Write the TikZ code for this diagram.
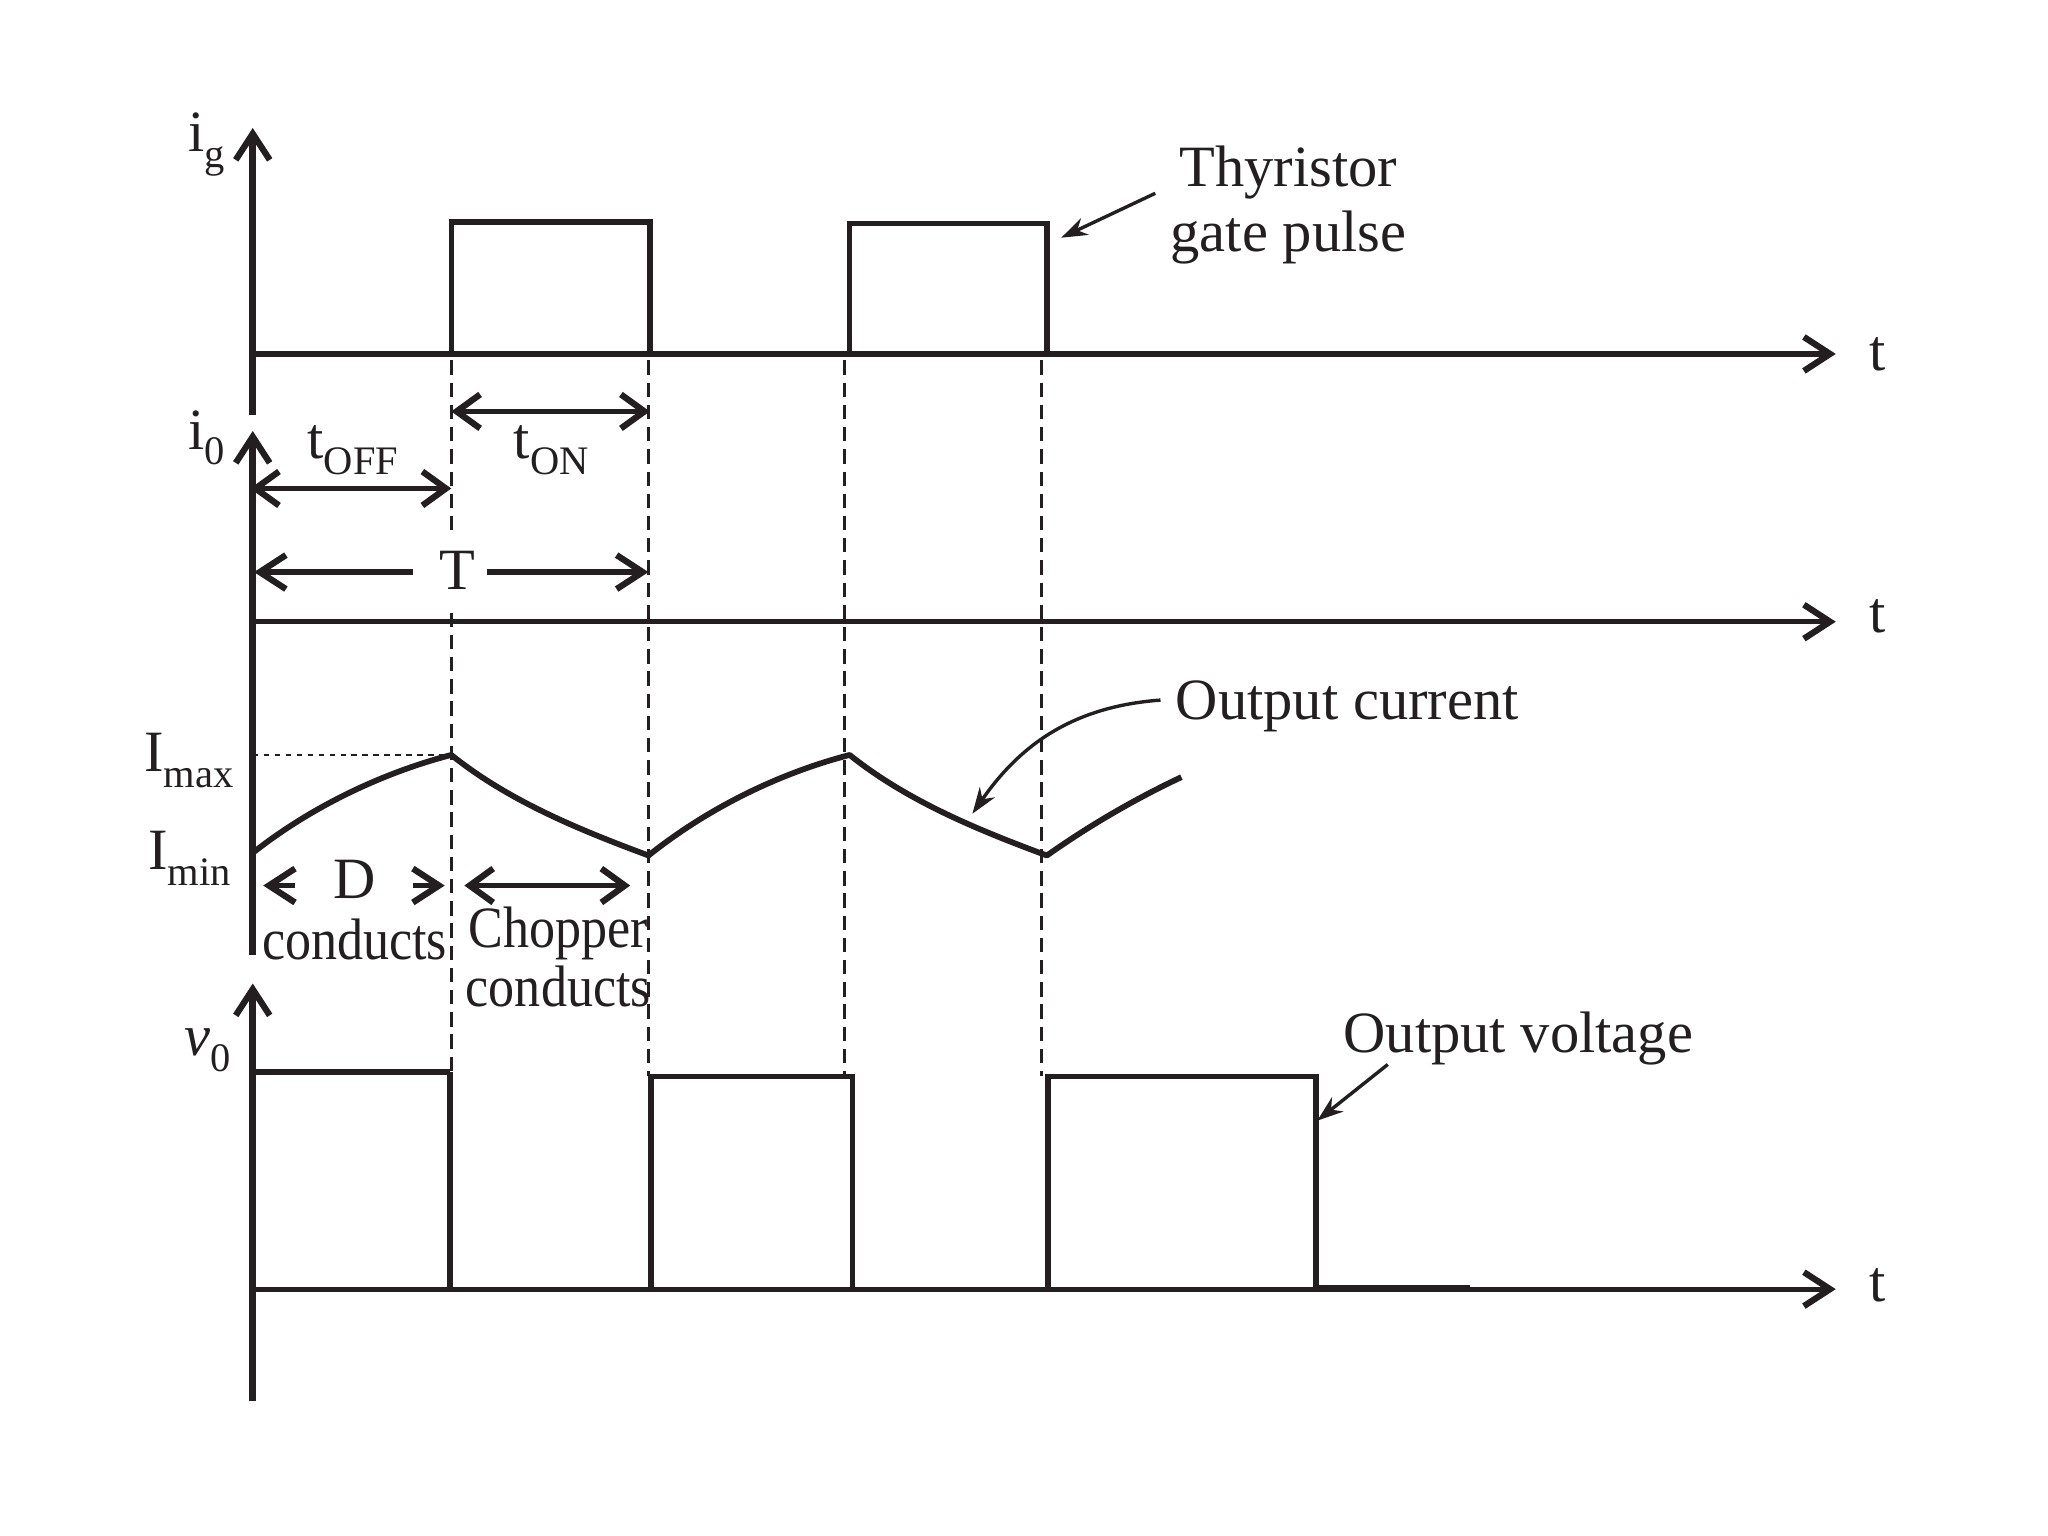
\documentclass[tikz,border=0pt]{standalone}
\usepackage{fontspec}
\setmainfont{Liberation Serif}
\usetikzlibrary{arrows.meta}
\definecolor{ink}{HTML}{231F20}
\newcommand{\sbx}[1]{\raisebox{-6pt}{\fontsize{15.5}{18}\selectfont #1}}
\newcommand{\cond}[1]{\scalebox{0.89}[1]{#1}}
\tikzset{
  x=0.5pt,y=-0.5pt,
  every node/.style={inner sep=0pt,outer sep=0pt,text=ink,font=\fontsize{22.4}{27}\selectfont,align=center},
  subl/.style={anchor=base west},
  axisline/.style={draw=ink,line width=2.5pt},
  thinaxis/.style={draw=ink,line width=2pt},
  wave/.style={draw=ink,line width=2.1pt},
  guide/.style={draw=ink,line width=1pt,dash pattern=on 5.5pt off 3pt},
  dotguide/.style={draw=ink,line width=0.9pt,dash pattern=on 2.2pt off 2pt},
  barb/.style={-{Straight Barb[length=10pt,width=13pt,line width=2.4pt]}},
  dbarb/.style={{Straight Barb[length=9pt,width=13pt,line width=2.4pt]}-{Straight Barb[length=9pt,width=13pt,line width=2.4pt]}},
  pointer/.style={draw=ink,line width=1.3pt,-{Stealth[length=10pt,width=7pt]}},
}
\begin{document}
\begin{tikzpicture}
\useasboundingbox[fill=white] (-0.5,-1) rectangle (1567.5,1175);
% coordinates
\coordinate (a1b) at (193,317); \coordinate (a1t) at (193,97);
\coordinate (b1l) at (193,270); \coordinate (b1r) at (1405,270);
\coordinate (a2b) at (193,730); \coordinate (a2t) at (193,329);
\coordinate (b2l) at (193,475); \coordinate (b2r) at (1405,475);
\coordinate (a3b) at (193,1072); \coordinate (a3t) at (193,752);
\coordinate (b3l) at (193,986); \coordinate (b3r) at (1405,986);
% dashed guides
\draw[guide] (345,275) -- (345,405);
\draw[guide] (345,468) -- (345,820);
\foreach \x/\ye in {496/823,646/823,797/823}{
  \draw[guide] (\x,275) -- (\x,\ye);
}
% axes
\draw[axisline,barb] (a1b) -- (a1t);
\draw[axisline,barb] (b1l) -- (b1r);
\draw[axisline,barb] (a2b) -- (a2t);
\draw[thinaxis,barb] (b2l) -- (b2r);
\draw[axisline,barb] (a3b) -- (a3t);
\draw[thinaxis,barb] (b3l) -- (b3r);
% gate pulses
\draw[wave,line join=miter] (345,270) -- (345,169) -- (497,169) -- (497,270);
\draw[wave,line join=miter] (650,270) -- (650,170) -- (801,170) -- (801,270);
% output current
\draw[dotguide] (193,577) -- (345,577);
\draw[draw=ink,line width=2.2pt,line join=round]
  (193,652) .. controls (240,615) and (295,590) .. (345,577)
  .. controls (390,613) and (445,635) .. (496,654)
  .. controls (545,615) and (600,590) .. (650,577)
  .. controls (695,613) and (750,635) .. (801,654)
  .. controls (835,630) and (870,610) .. (904,594);
% output voltage
\draw[wave,line width=2.4pt] (193,820) -- (344,820);
\draw[wave] (344,820) -- (344,986);
\draw[wave,line join=miter] (498,986) -- (498,823) -- (652,823) -- (652,986);
\draw[wave,line join=miter] (802,986) -- (802,823) -- (1007,823) -- (1007,985) -- (1125,985);
% dimension arrows
\coordinate (on1) at (345,314); \coordinate (on2) at (497,314);
\coordinate (off1) at (191,373); \coordinate (off2) at (345,373);
\coordinate (t1) at (194,437); \coordinate (t2) at (496,437);
\coordinate (t1e) at (316,437); \coordinate (t2s) at (372,437);
\coordinate (d1) at (201,677); \coordinate (d1e) at (225,677);
\coordinate (d2) at (340,677); \coordinate (d2s) at (316,677);
\coordinate (c1) at (355,677); \coordinate (c2) at (482,677);
\draw[wave,dbarb] (on1) -- (on2);
\draw[wave,dbarb] (off1) -- (off2);
\draw[wave,barb] (t1e) -- (t1);
\draw[wave,barb] (t2s) -- (t2);
\draw[wave,barb] (d1e) -- (d1);
\draw[wave,barb] (d2s) -- (d2);
\draw[wave,dbarb] (c1) -- (c2);
% labels
\node[subl] (lig) at (144,115) {i\sbx{g}};
\node[subl] (li0) at (144,343) {i\sbx{0}};
\node (lt1) at (1437,270) {t};
\node (lt2) at (1437,471) {t};
\node (lt3) at (1437,983) {t};
\node[subl] (lon) at (393,350) {t\sbx{ON}};
\node[subl] (loff) at (235,350) {t\sbx{OFF}};
\node (lT) at (350,436) {T};
\node[subl] (lmax) at (110,590) {I\sbx{max}};
\node[subl] (lmin) at (113,665) {I\sbx{min}};
\node (lD) at (271,672) {D};
\node (lcd) at (271,718) {\cond{conducts}};
\node (lch) at (427,714) {\cond{Chopper}};
\node (lcc) at (427,754) {\cond{conducts}};
\node[subl] (lv0) at (141,807) {\textit{v}\sbx{0}};
\node (lthy) at (986,131) {Thyristor};
\node (lgate) at (986,181) {gate pulse};
\node (lcur) at (1031,540) {Output current};
\node (lvol) at (1162,794) {Output voltage};
% pointers
\coordinate (pg) at (812,181);
\coordinate (pc) at (744,622);
\coordinate (pv) at (1008,857);
\draw[pointer] (884,147) -- (pg);
\draw[pointer] (888,535) .. controls (820,540) and (780,570) .. (pc);
\draw[pointer] (1062,814) -- (pv);
\end{tikzpicture}
\end{document}
